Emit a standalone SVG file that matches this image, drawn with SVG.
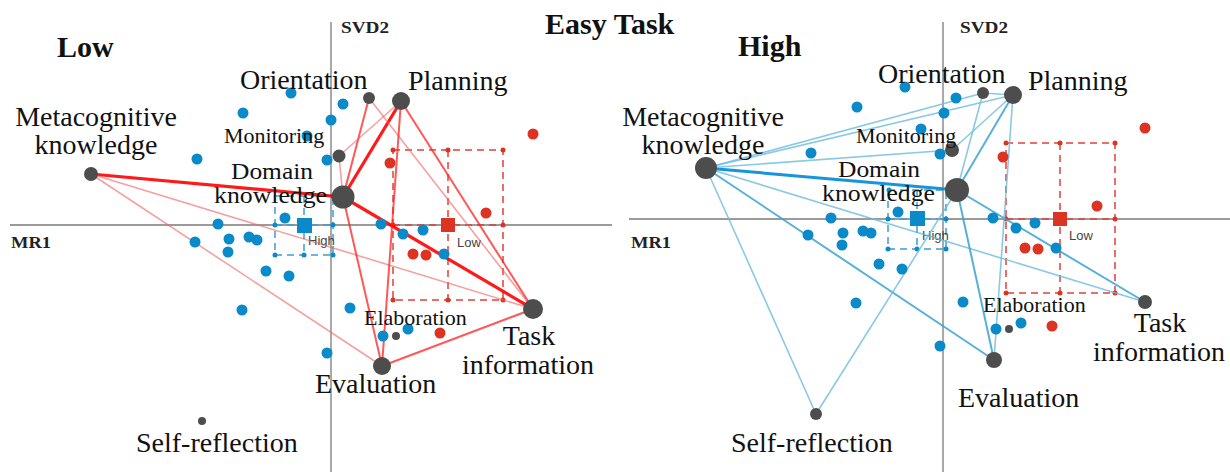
<svg xmlns="http://www.w3.org/2000/svg" width="1230" height="472" viewBox="0 0 1230 472">
<style>
.bg{fill:#ffffff}
.ax{stroke:#7a7a7a;stroke-width:1.3;fill:none}
.axl{font-family:"Liberation Serif",serif;font-weight:bold;font-size:16px;fill:#222}
.title{font-family:"Liberation Serif",serif;font-weight:bold;font-size:30px;fill:#111}
.lb{font-family:"Liberation Serif",serif;font-size:28px;fill:#111}
.lbm{font-family:"Liberation Serif",serif;font-size:24px;fill:#111}
.lbs{font-family:"Liberation Serif",serif;font-size:22px;fill:#111}
.grp{font-family:"Liberation Sans",Arial,sans-serif;font-size:13px;fill:#444}
.node{fill:#4d4d4d}
.bd{fill:#0a8ac8}
.rd{fill:#dd3322}
.rbox{fill:none;stroke:#e0403a;stroke-width:1.5;stroke-dasharray:7 5}
.bbox{fill:none;stroke:#3a9fd6;stroke-width:1.5;stroke-dasharray:7 5}
.rs{stroke:#ff0000;stroke-width:3.2;stroke-opacity:0.9;fill:none}
.rm{stroke:#ff2020;stroke-width:2;stroke-opacity:0.75;fill:none}
.rl{stroke:#f06060;stroke-width:1.6;stroke-opacity:0.6;fill:none}
.bs{stroke:#0a8fd8;stroke-width:3;stroke-opacity:0.95;fill:none}
.bm{stroke:#3aa3cf;stroke-width:2;stroke-opacity:0.85;fill:none}
.bl{stroke:#6cbcdc;stroke-width:1.6;stroke-opacity:0.8;fill:none}
</style>
<rect class="bg" x="0" y="0" width="1230" height="472"/>

<g id="axes">
<line class="ax" x1="331" y1="22" x2="331" y2="472"/>
<line class="ax" x1="10" y1="225" x2="612" y2="225"/>
<line class="ax" x1="943" y1="22" x2="943" y2="472"/>
<line class="ax" x1="629" y1="219" x2="1230" y2="219"/>
<text class="axl" x="341" y="33" textLength="48" lengthAdjust="spacingAndGlyphs">SVD2</text>
<text class="axl" x="11" y="248" textLength="40" lengthAdjust="spacingAndGlyphs">MR1</text>
<text class="axl" x="960" y="33" textLength="48" lengthAdjust="spacingAndGlyphs">SVD2</text>
<text class="axl" x="631" y="248" textLength="40" lengthAdjust="spacingAndGlyphs">MR1</text>
</g>

<g id="titles">
<text class="title" x="545" y="34">Easy Task</text>
<text class="title" x="57" y="57">Low</text>
<text class="title" x="738" y="56">High</text>
</g>

<g id="group-boxes">
<rect class="rbox" x="393" y="150" width="110" height="150"/>
<line class="rbox" x1="448" y1="150" x2="448" y2="300"/>
<line class="rbox" x1="393" y1="225" x2="503" y2="225"/>
<g class="rd">
<circle cx="393" cy="150" r="2.5"/><circle cx="448" cy="150" r="2.5"/><circle cx="503" cy="150" r="2.5"/>
<circle cx="393" cy="225" r="2.5"/><circle cx="503" cy="225" r="2.5"/>
<circle cx="393" cy="300" r="2.5"/><circle cx="448" cy="300" r="2.5"/><circle cx="503" cy="300" r="2.5"/>
</g>
<rect class="rd" x="441" y="218" width="14" height="14"/>
<text class="grp" x="457" y="247">Low</text>

<rect class="bbox" x="275" y="196" width="58" height="59"/>
<line class="bbox" x1="304" y1="196" x2="304" y2="255"/>
<line class="bbox" x1="275" y1="225" x2="333" y2="225"/>
<g class="bd">
<circle cx="275" cy="225" r="2.5"/><circle cx="333" cy="225" r="2.5"/><circle cx="333" cy="196" r="2.5"/>
<circle cx="275" cy="255" r="2.5"/><circle cx="304" cy="255" r="2.5"/><circle cx="333" cy="255" r="2.5"/>
</g>
<rect class="bd" x="297" y="218" width="15" height="15"/>
<text class="grp" x="308" y="245">High</text>

<rect class="rbox" x="1006" y="143" width="109" height="150"/>
<line class="rbox" x1="1060" y1="143" x2="1060" y2="293"/>
<line class="rbox" x1="1006" y1="219" x2="1115" y2="219"/>
<g class="rd">
<circle cx="1006" cy="143" r="2.5"/><circle cx="1060" cy="143" r="2.5"/><circle cx="1115" cy="143" r="2.5"/>
<circle cx="1006" cy="219" r="2.5"/><circle cx="1115" cy="219" r="2.5"/>
<circle cx="1006" cy="293" r="2.5"/><circle cx="1060" cy="293" r="2.5"/><circle cx="1115" cy="293" r="2.5"/>
</g>
<rect class="rd" x="1053" y="212" width="14" height="14"/>
<text class="grp" x="1069" y="240">Low</text>

<rect class="bbox" x="888" y="190" width="58" height="59"/>
<line class="bbox" x1="917" y1="190" x2="917" y2="249"/>
<line class="bbox" x1="888" y1="219" x2="946" y2="219"/>
<g class="bd">
<circle cx="888" cy="219" r="2.5"/><circle cx="946" cy="219" r="2.5"/><circle cx="889" cy="190" r="2.5"/>
<circle cx="888" cy="249" r="2.5"/><circle cx="917" cy="249" r="2.5"/><circle cx="946" cy="249" r="2.5"/>
</g>
<rect class="bd" x="910" y="211" width="15" height="15"/>
<text class="grp" x="922" y="240">High</text>
</g>

<g id="connectors">
<!-- left panel (Low) -->
<line class="rs" x1="91" y1="174" x2="343" y2="197"/>
<line class="rl" x1="91" y1="174" x2="533" y2="309"/>
<line class="rl" x1="91" y1="174" x2="382" y2="366"/>
<line class="rs" x1="343" y1="197" x2="401" y2="101"/>
<line class="rm" x1="343" y1="197" x2="369" y2="98"/>
<line class="rs" x1="343" y1="197" x2="533" y2="309"/>
<line class="rm" x1="343" y1="197" x2="382" y2="366"/>
<line class="rl" x1="339" y1="156" x2="343" y2="197"/>
<line class="rl" x1="339" y1="156" x2="401" y2="101"/>
<line class="rl" x1="369" y1="98" x2="533" y2="309"/>
<line class="rm" x1="401" y1="101" x2="533" y2="309"/>
<line class="rm" x1="401" y1="101" x2="382" y2="366"/>
<line class="rm" x1="382" y1="366" x2="533" y2="309"/>
<!-- right panel (High) -->
<line class="bs" x1="706" y1="168" x2="957" y2="190"/>
<line class="bl" x1="706" y1="168" x2="983" y2="93"/>
<line class="bl" x1="706" y1="168" x2="1013" y2="95"/>
<line class="bl" x1="706" y1="168" x2="952" y2="150"/>
<line class="bl" x1="706" y1="168" x2="1145" y2="302"/>
<line class="bm" x1="706" y1="168" x2="994" y2="360"/>
<line class="bl" x1="706" y1="168" x2="816" y2="414"/>
<line class="bl" x1="983" y1="93" x2="1013" y2="95"/>
<line class="bl" x1="983" y1="93" x2="957" y2="190"/>
<line class="bl" x1="952" y1="150" x2="1013" y2="95"/>
<line class="bm" x1="957" y1="190" x2="1013" y2="95"/>
<line class="bm" x1="957" y1="190" x2="1145" y2="302"/>
<line class="bm" x1="957" y1="190" x2="994" y2="360"/>
<line class="bl" x1="957" y1="190" x2="816" y2="414"/>
<line class="bl" x1="1013" y1="95" x2="994" y2="360"/>
</g>

<g id="points">
<g class="bd">
<circle cx="291" cy="93" r="5.5"/><circle cx="343" cy="104" r="5.5"/><circle cx="243" cy="113" r="5.5"/>
<circle cx="331" cy="120" r="5.5"/><circle cx="307" cy="136" r="5.5"/><circle cx="197" cy="159" r="5.5"/>
<circle cx="327" cy="160" r="5.5"/><circle cx="285" cy="218" r="5.5"/><circle cx="218" cy="224" r="5.5"/>
<circle cx="195" cy="242" r="5.5"/><circle cx="229" cy="239" r="5.5"/><circle cx="249" cy="237" r="5.5"/>
<circle cx="257" cy="240" r="5.5"/><circle cx="228" cy="252" r="5.5"/><circle cx="266" cy="271" r="5.5"/>
<circle cx="289" cy="276" r="5.5"/><circle cx="242" cy="310" r="5.5"/><circle cx="350" cy="308" r="5.5"/>
<circle cx="327" cy="353" r="5.5"/><circle cx="381" cy="224" r="5.5"/><circle cx="403" cy="234" r="5.5"/>
<circle cx="423" cy="230" r="5.5"/><circle cx="444" cy="254" r="5.5"/><circle cx="383" cy="336" r="5.5"/>
<circle cx="408" cy="329" r="5.5"/>

<circle cx="905" cy="87" r="5.5"/><circle cx="956" cy="98" r="5.5"/><circle cx="857" cy="107" r="5.5"/>
<circle cx="944" cy="113" r="5.5"/><circle cx="921" cy="129" r="5.5"/><circle cx="811" cy="153" r="5.5"/>
<circle cx="940" cy="154" r="5.5"/><circle cx="898" cy="212" r="5.5"/><circle cx="831" cy="218" r="5.5"/>
<circle cx="808" cy="235" r="5.5"/><circle cx="843" cy="233" r="5.5"/><circle cx="863" cy="231" r="5.5"/>
<circle cx="871" cy="233" r="5.5"/><circle cx="842" cy="245" r="5.5"/><circle cx="879" cy="264" r="5.5"/>
<circle cx="902" cy="269" r="5.5"/><circle cx="856" cy="303" r="5.5"/><circle cx="963" cy="302" r="5.5"/>
<circle cx="940" cy="346" r="5.5"/><circle cx="993" cy="218" r="5.5"/><circle cx="1016" cy="228" r="5.5"/>
<circle cx="1035" cy="223" r="5.5"/><circle cx="1056" cy="248" r="5.5"/><circle cx="996" cy="329" r="5.5"/>
<circle cx="1021" cy="323" r="5.5"/>
</g>
<g class="rd">
<circle cx="390" cy="163" r="5.5"/><circle cx="486" cy="213" r="5.5"/><circle cx="533" cy="134" r="5.5"/>
<circle cx="413" cy="254" r="5.5"/><circle cx="426" cy="255" r="5.5"/><circle cx="440" cy="333" r="5.5"/>
<circle cx="1003" cy="157" r="5.5"/><circle cx="1097" cy="206" r="5.5"/><circle cx="1145" cy="128" r="5.5"/>
<circle cx="1025" cy="248" r="5.5"/><circle cx="1038" cy="249" r="5.5"/><circle cx="1052" cy="326" r="5.5"/>
</g>
</g>

<!-- Left panel nodes -->
<g id="L-metacognitive-knowledge"><circle class="node" cx="91" cy="174" r="7"/><text class="lb" x="96" y="126" text-anchor="middle">Metacognitive</text><text class="lb" x="96" y="154" text-anchor="middle">knowledge</text></g>
<g id="L-orientation"><circle class="node" cx="369" cy="98" r="6"/><text class="lb" x="240" y="89">Orientation</text></g>
<g id="L-planning"><circle class="node" cx="401" cy="101" r="9"/><text class="lb" x="408" y="90">Planning</text></g>
<g id="L-monitoring"><circle class="node" cx="339" cy="156" r="6.5"/><text class="lbs" x="224" y="143">Monitoring</text></g>
<g id="L-domain-knowledge"><circle class="node" cx="343" cy="197" r="11.5"/><text class="lbm" x="231" y="179" textLength="82" lengthAdjust="spacingAndGlyphs">Domain</text><text class="lbm" x="214" y="203" textLength="113" lengthAdjust="spacingAndGlyphs">knowledge</text></g>
<g id="L-task-information"><circle class="node" cx="533" cy="309" r="10"/><text class="lb" x="529" y="345" text-anchor="middle">Task</text><text class="lb" x="528" y="374" text-anchor="middle">information</text></g>
<g id="L-evaluation"><circle class="node" cx="382" cy="366" r="9"/><text class="lb" x="315" y="393">Evaluation</text></g>
<g id="L-elaboration"><circle class="node" cx="396" cy="336" r="4"/><text class="lbs" x="364" y="325">Elaboration</text></g>
<g id="L-self-reflection"><circle class="node" cx="202" cy="421" r="4"/><text class="lb" x="136" y="452">Self-reflection</text></g>

<!-- Right panel nodes -->
<g id="R-metacognitive-knowledge"><circle class="node" cx="706" cy="168" r="11"/><text class="lb" x="703" y="126" text-anchor="middle">Metacognitive</text><text class="lb" x="703" y="154" text-anchor="middle">knowledge</text></g>
<g id="R-orientation"><circle class="node" cx="983" cy="93" r="6"/><text class="lb" x="878" y="83">Orientation</text></g>
<g id="R-planning"><circle class="node" cx="1013" cy="95" r="9"/><text class="lb" x="1028" y="90">Planning</text></g>
<g id="R-monitoring"><circle class="node" cx="952" cy="150" r="7"/><text class="lbs" x="856" y="143">Monitoring</text></g>
<g id="R-domain-knowledge"><circle class="node" cx="957" cy="190" r="12"/><text class="lbm" x="838" y="177" textLength="82" lengthAdjust="spacingAndGlyphs">Domain</text><text class="lbm" x="822" y="201" textLength="113" lengthAdjust="spacingAndGlyphs">knowledge</text></g>
<g id="R-task-information"><circle class="node" cx="1145" cy="302" r="7"/><text class="lb" x="1160" y="332" text-anchor="middle">Task</text><text class="lb" x="1159" y="361" text-anchor="middle">information</text></g>
<g id="R-evaluation"><circle class="node" cx="994" cy="360" r="8"/><text class="lb" x="958" y="407">Evaluation</text></g>
<g id="R-elaboration"><circle class="node" cx="1009" cy="329" r="4"/><text class="lbs" x="983" y="312">Elaboration</text></g>
<g id="R-self-reflection"><circle class="node" cx="816" cy="414" r="6"/><text class="lb" x="731" y="452">Self-reflection</text></g>
</svg>
